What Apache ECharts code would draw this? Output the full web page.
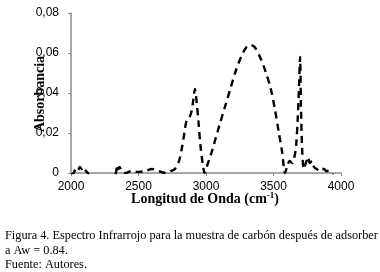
<!DOCTYPE html>
<html>
<head>
<meta charset="utf-8">
<script src="https://cdn.jsdelivr.net/npm/echarts@6/dist/echarts.min.js"></script>
<style>
  html, body { margin: 0; padding: 0; background: #fff; }
  #chart { width: 380px; height: 272px; }
</style>
</head>
<body>
<div id="chart"></div>
<script>
// espectro IR
const wavenumber = [2000, 2020, 2035, 2050, 2065, 2080, 2095, 2110, 2125, 2140,
  2320, 2335, 2342, 2350, 2360, 2375, 2400, 2450, 2500, 2550, 2600, 2650, 2700,
  2740, 2770, 2800, 2820, 2840, 2855, 2870, 2890, 2905, 2918, 2930, 2945, 2960,
  2975, 2990, 3010, 3040, 3070, 3100, 3140, 3180, 3220, 3260, 3300, 3330, 3360,
  3400, 3440, 3480, 3510, 3540, 3565, 3585, 3600, 3620, 3640, 3655, 3668, 3680,
  3690, 3697, 3703, 3712, 3725, 3740, 3755, 3770, 3785, 3800, 3820, 3840, 3860,
  3875, 3890, 3910, 3930, 3950];
const absorbance = [-0.001, 0.000, 0.002, 0.001, 0.003, 0.002, 0.003, 0.001, 0.000, -0.002,
  -0.002, 0.001, 0.004, 0.002, 0.003, 0.001, 0.000, 0.001, 0.0005, 0.001, 0.002, 0.001, 0.000,
  0.001, 0.002, 0.006, 0.012, 0.020, 0.026, 0.027, 0.030, 0.036, 0.042, 0.036, 0.025, 0.013,
  0.005, 0.000, 0.004, 0.010, 0.017, 0.024, 0.033, 0.042, 0.051, 0.058, 0.063, 0.064, 0.063,
  0.058, 0.051, 0.042, 0.032, 0.020, 0.010, 0.000, 0.003, 0.006, 0.005, 0.008, 0.014, 0.028,
  0.045, 0.058, 0.035, 0.012, 0.002, 0.005, 0.008, 0.005, 0.006, 0.003, 0.002, 0.001, 0.002,
  0.002, 0.001, 0.001, 0.000, -0.002];

const xTicks = [2000, 2500, 3000, 3500, 4000];
const yTicks = [0, 0.02, 0.04, 0.06, 0.08];

const caption = [
  'Figura 4. Espectro Infrarrojo para la muestra de carbón después de adsorber',
  'a Aw = 0.84.',
  'Fuente: Autores.'
];

const data = wavenumber.map((w, i) => [w, absorbance[i]]);
const serif = '"Liberation Serif", "DejaVu Serif", serif';
const sans = '"Liberation Sans", Arial, sans-serif';
const axisGray = '#8a8a8a';

const chart = echarts.init(document.getElementById('chart'), null, { renderer: 'canvas' });

chart.setOption({
  backgroundColor: '#fff',
  animation: false,
  grid: { left: 71, right: 39, top: 13, bottom: 99 },
  xAxis: {
    type: 'value',
    min: xTicks[0],
    max: xTicks[xTicks.length - 1],
    interval: 500,
    axisLine: { show: true, onZero: false, lineStyle: { color: axisGray, width: 1.5 } },
    axisTick: { show: true, length: 3, lineStyle: { color: axisGray } },
    splitLine: { show: false },
    axisLabel: {
      color: '#000', fontFamily: sans, fontSize: 12, margin: 8,
      formatter: v => String(v)
    }
  },
  yAxis: {
    type: 'value',
    min: yTicks[0],
    max: yTicks[yTicks.length - 1],
    interval: 0.02,
    axisLine: { show: true, lineStyle: { color: axisGray, width: 1.5 } },
    axisTick: { show: true, length: 3, lineStyle: { color: axisGray } },
    splitLine: { show: false },
    axisLabel: {
      color: '#000', fontFamily: sans, fontSize: 12, margin: 12,
      formatter: v => v === 0 ? '0' : v.toFixed(2).replace('.', ',')
    }
  },
  series: [{
    type: 'line',
    data: data,
    showSymbol: false,
    smooth: 0.3,
    clip: true,
    lineStyle: { color: '#000', width: 2.4, type: [7, 5] }
  }],
  graphic: [
    {
      type: 'text',
      x: 40, y: 94,
      rotation: Math.PI / 2,
      style: {
        text: 'Absorbancia',
        font: 'bold 14px ' + serif,
        fill: '#000',
        align: 'center',
        verticalAlign: 'middle'
      }
    },
    {
      type: 'text',
      x: 205, y: 199,
      style: {
        text: '{t|Longitud de Onda (cm}{s|-1}{t|)}',
        fill: '#000',
        align: 'center',
        verticalAlign: 'middle',
        rich: {
          t: { font: 'bold 14px ' + serif, fill: '#000' },
          s: { font: 'bold 9px ' + serif, fill: '#000', verticalAlign: 'top', padding: [0, 0, 6, 0] }
        }
      }
    },
    {
      type: 'text', x: 5, y: 236,
      style: { text: caption[0], font: '12.3px ' + serif, fill: '#000', verticalAlign: 'middle' }
    },
    {
      type: 'text', x: 5, y: 251,
      style: { text: caption[1], font: '12.3px ' + serif, fill: '#000', verticalAlign: 'middle' }
    },
    {
      type: 'text', x: 5, y: 265,
      style: { text: caption[2], font: '12.3px ' + serif, fill: '#000', verticalAlign: 'middle' }
    }
  ]
});
</script>
</body>
</html>
